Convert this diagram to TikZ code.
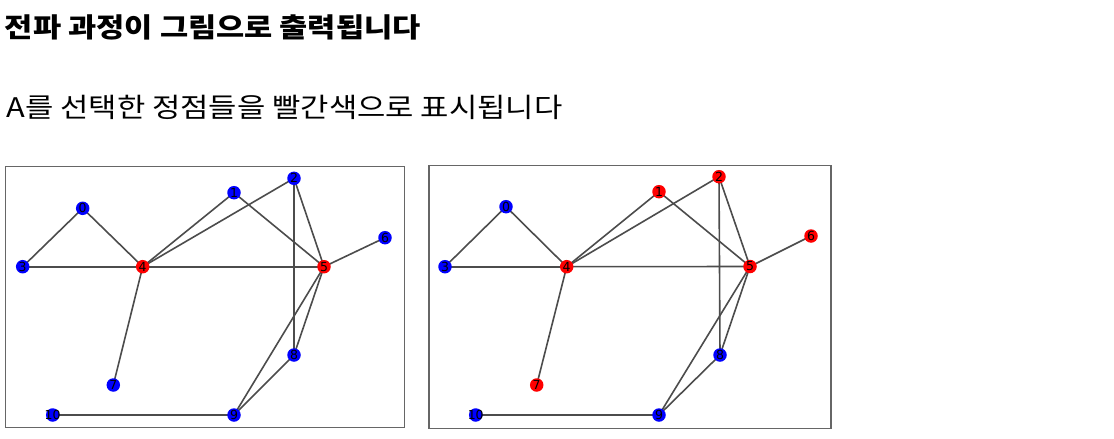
\documentclass[tikz,border=0pt]{standalone}
\usepackage{fontspec}
\newfontfamily\kr{Noto Sans CJK KR}
\newfontfamily\lab{DejaVu Sans}
\pgfdeclarelayer{bg}
\pgfsetlayers{bg,main}
\newcommand{\vl}[1]{\makebox[0pt]{#1}}
\begin{document}
\begin{tikzpicture}[x=1pt,y=-1pt,
  vtx/.style={circle,inner sep=0pt,minimum size=13.5pt,font=\lab\fontsize{12.5}{12.5}\selectfont,text=black},
  bluev/.style={vtx,fill=blue},
  redv/.style={vtx,fill=red},
  edge/.style={draw=black!70,line width=1.6pt},
  frame/.style={draw=black!60,line width=1.4pt},
  txt/.style={inner sep=0pt,outer sep=0pt,anchor=base west}]
\useasboundingbox (0,0) rectangle (1114,439);
\node[txt,font=\kr\bfseries\fontsize{27}{27}\selectfont,xscale=1.135] (title) at (5,37.5) {전파 과정이 그림으로 출력됩니다};
\node[txt,font=\kr\fontsize{27}{27}\selectfont,xscale=1.14] (sub) at (6.5,117.5) {A를 선택한 정점들을 빨간색으로 표시됩니다};
% left panel
\node[frame,rectangle,inner sep=0pt,minimum width=399pt,minimum height=261pt,anchor=north west] (lframe) at (4.5,166) {};
\node[bluev] (l0) at (82.7,208.3) {\vl{0}};
\node[bluev] (l1) at (234,192.7) {\vl{1}};
\node[bluev] (l2) at (294,178.3) {\vl{2}};
\node[bluev] (l3) at (22.7,266.7) {\vl{3}};
\node[redv] (l4) at (142.7,266.7) {\vl{4}};
\node[redv] (l5) at (324,266.7) {\vl{5}};
\node[bluev] (l6) at (385,237.7) {\vl{6}};
\node[bluev] (l7) at (113.3,385) {\vl{7}};
\node[bluev] (l8) at (294,355) {\vl{8}};
\node[bluev] (l9) at (234,415) {\vl{9}};
\node[bluev] (l10) at (52.7,415) {\vl{10}};
% right panel
\node[frame,rectangle,inner sep=0pt,minimum width=402pt,minimum height=263pt,anchor=north west] (rframe) at (428.3,164.7) {};
\node[bluev] (r0) at (506,206.7) {\vl{0}};
\node[redv] (r1) at (659,191.7) {\vl{1}};
\node[redv] (r2) at (719,176.7) {\vl{2}};
\node[bluev] (r3) at (445,266.7) {\vl{3}};
\node[redv] (r4) at (566.7,266.7) {\vl{4}};
\node[redv] (r5) at (750,266.5) {\vl{5}};
\node[redv] (r6) at (811,236) {\vl{6}};
\node[redv] (r7) at (536.7,385) {\vl{7}};
\node[bluev] (r8) at (720,355) {\vl{8}};
\node[bluev] (r9) at (659,415) {\vl{9}};
\node[bluev] (r10) at (475.7,415) {\vl{10}};
\begin{pgfonlayer}{bg}
\foreach \p in {l,r}{
  \draw[edge] (\p0.center) -- (\p3.center);
  \draw[edge] (\p0.center) -- (\p4.center);
  \draw[edge] (\p3.center) -- (\p4.center);
  \draw[edge] (\p4.center) -- (\p5.center);
  \draw[edge] (\p4.center) -- (\p1.center);
  \draw[edge] (\p4.center) -- (\p2.center);
  \draw[edge] (\p4.center) -- (\p7.center);
  \draw[edge] (\p1.center) -- (\p5.center);
  \draw[edge] (\p2.center) -- (\p5.center);
  \draw[edge] (\p2.center) -- (\p8.center);
  \draw[edge] (\p5.center) -- (\p6.center);
  \draw[edge] (\p5.center) -- (\p8.center);
  \draw[edge] (\p5.center) -- (\p9.center);
  \draw[edge] (\p8.center) -- (\p9.center);
  \draw[edge] (\p9.center) -- (\p10.center);
}
\end{pgfonlayer}
\end{tikzpicture}
\end{document}
